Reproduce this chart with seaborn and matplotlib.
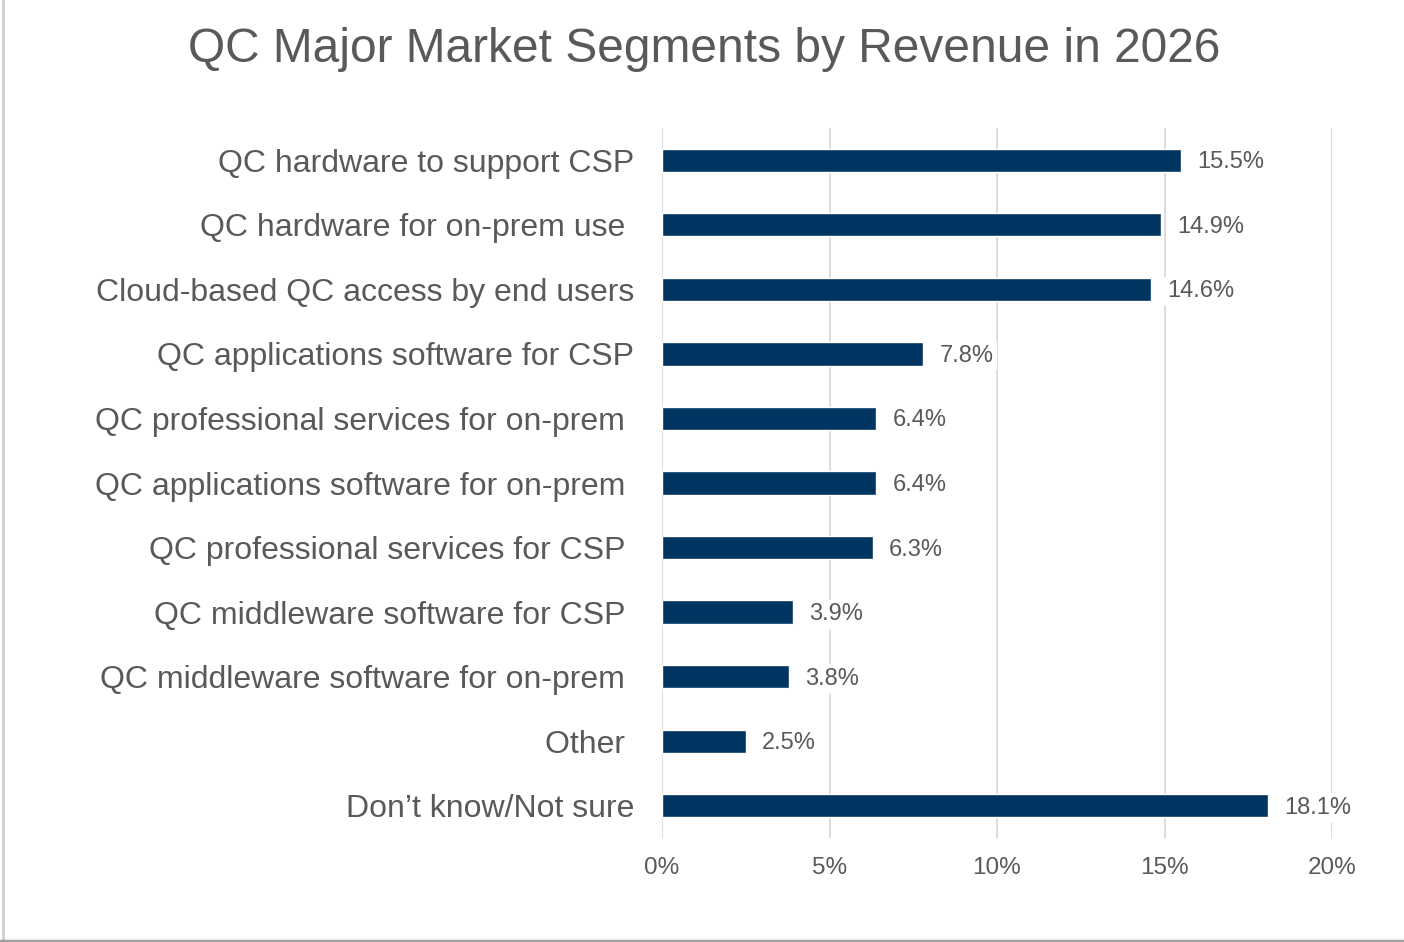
import matplotlib
matplotlib.use("Agg")
import matplotlib.pyplot as plt
from matplotlib.lines import Line2D
from matplotlib.ticker import FuncFormatter
import seaborn as sns
import pandas as pd

categories = [
    "QC hardware to support CSP",
    "QC hardware for on-prem use ",
    "Cloud-based QC access by end users",
    "QC applications software for CSP",
    "QC professional services for on-prem ",
    "QC applications software for on-prem ",
    "QC professional services for CSP ",
    "QC middleware software for CSP ",
    "QC middleware software for on-prem ",
    "Other ",
    "Don\u2019t know/Not sure",
]
values = [15.5, 14.9, 14.6, 7.8, 6.4, 6.4, 6.3, 3.9, 3.8, 2.5, 18.1]
x_ticks = [0, 5, 10, 15, 20]

sns.set_theme(style="white")
plt.rcParams['font.family'] = ['Liberation Sans', 'DejaVu Sans']

TEXT = "#595959"
BAR = "#003562"
GRID = "#d9d9d9"

df = pd.DataFrame({"cat": categories, "val": values})

fig = plt.figure(figsize=(14.04, 9.42), dpi=100)
ax = fig.add_axes([662/1404, 1-838/942, 670/1404, 710/942])

sns.barplot(data=df, y="cat", x="val", color=BAR, width=0.36, ax=ax,
            orient="h", saturation=1)

ax.set_xlim(0, 20)
ax.set_ylim(len(categories) - 0.5, -0.5)
ax.set_xticks(x_ticks)
ax.xaxis.set_major_formatter(FuncFormatter(lambda v, p: f"{v:.0f}%"))
ax.grid(axis="x", color=GRID, linewidth=1.3)
ax.set_axisbelow(True)
for s in ax.spines.values():
    s.set_visible(False)
ax.set_xlabel("")
ax.set_ylabel("")
ax.tick_params(axis="y", length=0, pad=20, labelsize=23, labelcolor=TEXT)
ax.tick_params(axis="x", length=0, pad=14, labelsize=17.5, labelcolor=TEXT)

for i, v in enumerate(values):
    ax.annotate(f"{v}%", xy=(v, i), xytext=(16, -2), textcoords="offset pixels",
                va="center", ha="left", fontsize=17, color=TEXT,
                bbox=dict(boxstyle="square,pad=0.15", fc="white", ec="none"))

fig.text(704/1404, 1-49/942, "QC Major Market Segments by Revenue in 2026",
         ha="center", va="center", fontsize=34.5, color=TEXT)

fig.add_artist(Line2D([2.5/1404, 2.5/1404], [0, 1], transform=fig.transFigure,
                      color="#d0d0d0", linewidth=2))
fig.add_artist(Line2D([0, 1], [1.5/942, 1.5/942], transform=fig.transFigure,
                      color="#a0a0a0", linewidth=2.5))

fig.savefig("out.png", dpi=100)
